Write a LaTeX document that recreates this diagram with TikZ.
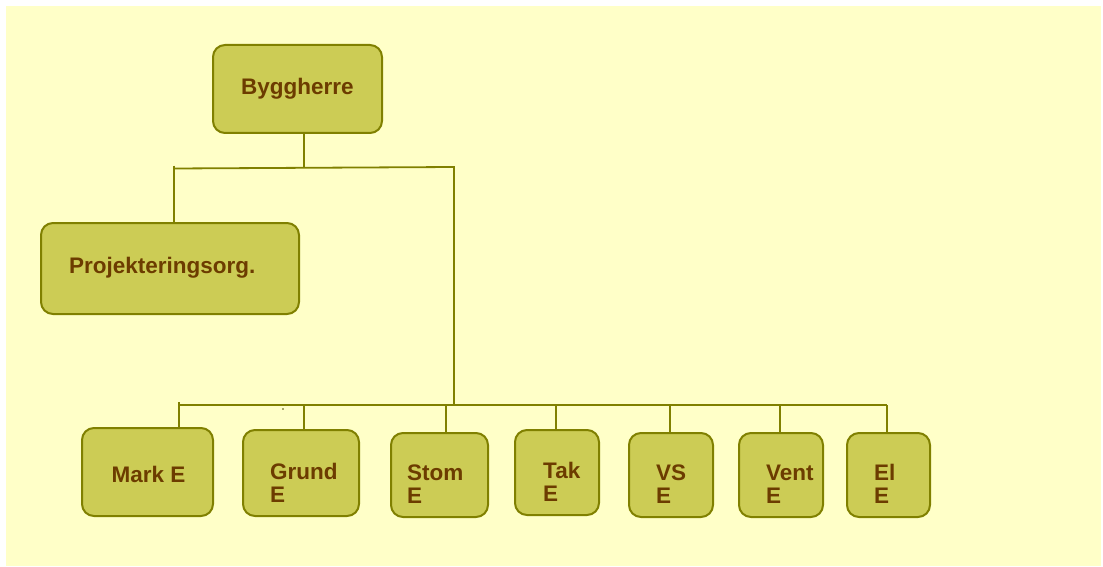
\documentclass[tikz,border=0pt]{standalone}
\usepackage{fontspec}
\setmainfont{Liberation Sans}
\usetikzlibrary{calc}
\definecolor{paper}{RGB}{255,255,200}
\definecolor{boxfill}{RGB}{204,204,85}
\definecolor{olive}{RGB}{128,128,0}
\definecolor{ink}{RGB}{108,60,0}
\newcommand{\twolines}[2]{\begin{tabular}[t]{@{}l@{}}#1\\#2\end{tabular}}
\tikzset{
  orgbox/.style={draw=olive, fill=boxfill, line width=2pt, rounded corners=12pt, inner sep=0pt},
  lbl/.style={inner sep=0pt, text=ink, font=\fontsize{22.5}{23}\selectfont\bfseries},
  wire/.style={draw=olive, line width=1.8pt}
}
\begin{document}
\begin{tikzpicture}[x=1pt,y=-1pt]
  % page and background
  \useasboundingbox (0,0) rectangle (1103,567);
  \fill[white] (0,0) rectangle (1103,567);
  \fill[paper] (6,6) rectangle (1101,566);

  % boxes
  \node[orgbox, minimum width=169pt, minimum height=88pt] (bygg) at (297.5,89) {};
  \node[orgbox, minimum width=258pt, minimum height=91pt] (proj) at (170,268.5) {};
  \node[orgbox, minimum width=131pt, minimum height=88pt] (mark)  at (147.5,472) {};
  \node[orgbox, minimum width=116pt, minimum height=86pt] (grund) at (301,473) {};
  \node[orgbox, minimum width=97pt,  minimum height=84pt] (stom)  at (439.5,475) {};
  \node[orgbox, minimum width=84pt,  minimum height=85pt] (tak)   at (557,472.5) {};
  \node[orgbox, minimum width=84pt,  minimum height=84pt] (vs)    at (671,475) {};
  \node[orgbox, minimum width=84pt,  minimum height=84pt] (vent)  at (781,475) {};
  \node[orgbox, minimum width=83pt,  minimum height=84pt] (el)    at (888.5,475) {};

  % labels
  \node[lbl, anchor=base west] (bygg-t) at (241,95) {Byggherre};
  \node[lbl, anchor=base west] (proj-t) at (69,273) {Projekteringsorg.};
  \node[lbl, anchor=base] (mark-t) at (148.5,482) {Mark E};
  \node[lbl, anchor=base west] (grund-t) at (270,479) {\twolines{Grund}{E}};
  \node[lbl, anchor=base west] (stom-t)  at (407,480) {\twolines{Stom}{E}};
  \node[lbl, anchor=base west] (tak-t)   at (543,478) {\twolines{Tak}{E}};
  \node[lbl, anchor=base west] (vs-t)    at (656,480) {\twolines{VS}{E}};
  \node[lbl, anchor=base west] (vent-t)  at (766,480) {\twolines{Vent}{E}};
  \node[lbl, anchor=base west] (el-t)    at (874,480) {\twolines{El}{E}};

  % junction points of the tree
  \coordinate (tl) at (174,168.5);
  \coordinate (tj) at (304,168);
  \coordinate (tr) at (454,167);
  \coordinate (bj) at (454,405);
  \coordinate (b1) at (179,405);
  \coordinate (b2) at (304,405);
  \coordinate (b3) at (446,405);
  \coordinate (b4) at (556,405);
  \coordinate (b5) at (670,405);
  \coordinate (b6) at (780,405);
  \coordinate (b7) at (887,405);

  % upper level
  \draw[wire] (bygg.south -| tj) -- (tj);
  \draw[wire] (tl) -- (tr) -- (bj);
  \draw[wire] ($(tl)+(0,-3)$) -- (proj.north -| tl);

  % lower level
  \draw[wire] (b1) -- (b7);
  \draw[wire] ($(b1)+(0,-3)$) -- (mark.north -| b1);
  \draw[wire] (b2) -- (grund.north -| b2);
  \draw[wire] (b3) -- (stom.north -| b3);
  \draw[wire] (b4) -- (tak.north -| b4);
  \draw[wire] (b5) -- (vs.north -| b5);
  \draw[wire] (b6) -- (vent.north -| b6);
  \draw[wire] (b7) -- (el.north -| b7);

  % small speck under the bus
  \fill[olive!60!black] (283,409) circle (0.9pt);
\end{tikzpicture}
\end{document}
